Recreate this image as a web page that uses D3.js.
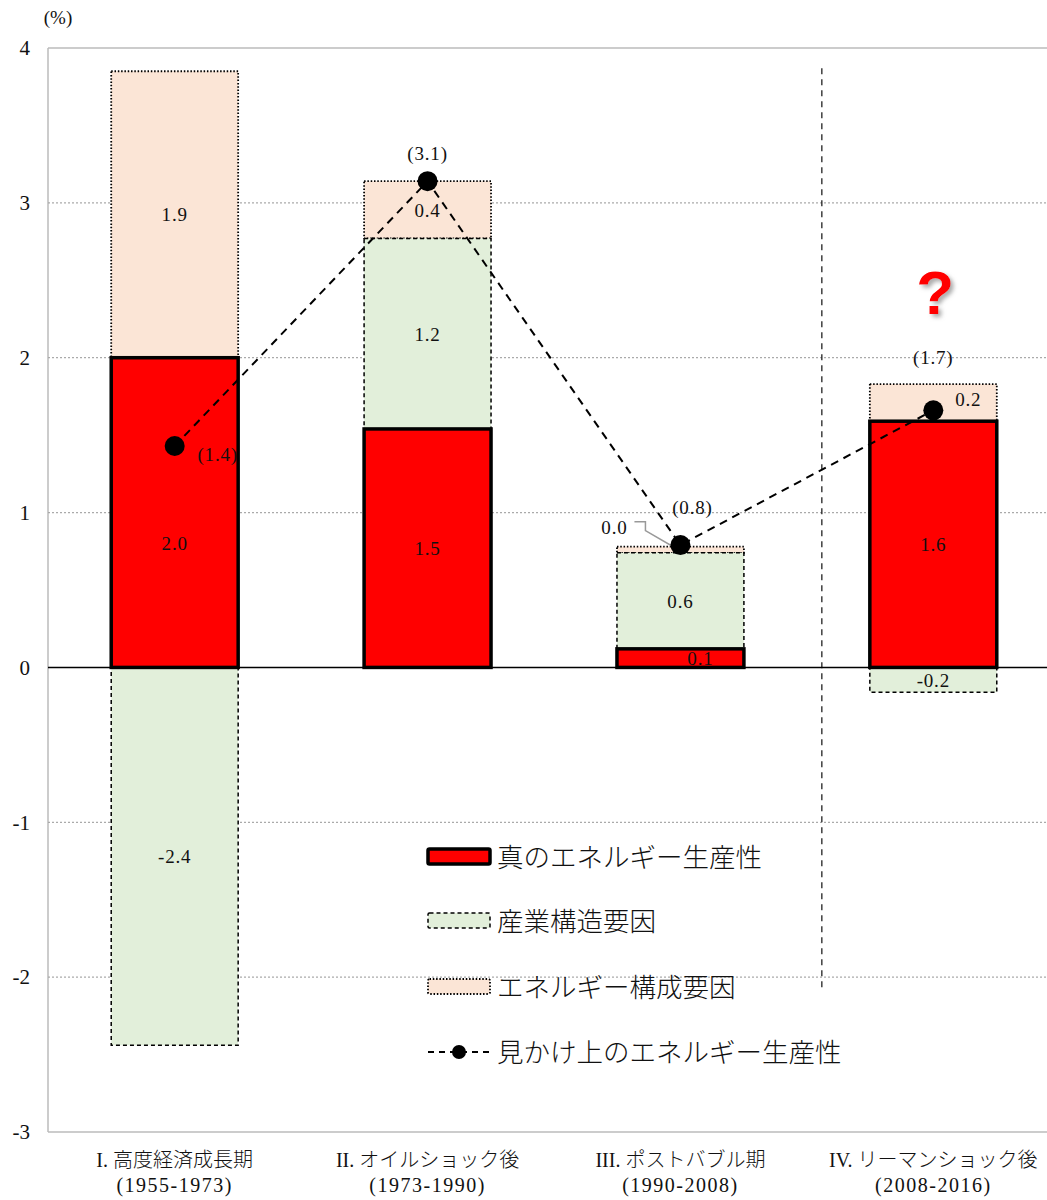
<!DOCTYPE html>
<html>
<head>
<meta charset="utf-8">
<script src="https://cdn.jsdelivr.net/npm/d3@7"></script>
<style>
  html, body { margin: 0; padding: 0; background: #fff; }
  svg text { fill: #111; }
</style>
</head>
<body>
<svg id="chart" width="1047" height="1200"></svg>
<script>
// Energy productivity growth decomposition by period (%)
const periods = ["I. 高度経済成長期", "II. オイルショック後", "III. ポストバブル期", "IV. リーマンショック後"];
const periodYears = ["(1955-1973)", "(1973-1990)", "(1990-2008)", "(2008-2016)"];
const trueProductivity = [2.0, 1.54, 0.12, 1.59];
const industryStructure = [-2.44, 1.23, 0.62, -0.16];
const energyMix = [1.85, 0.37, 0.04, 0.24];
const apparentProductivity = [1.43, 3.14, 0.79, 1.66];
const yTicks = [-3, -2, -1, 0, 1, 2, 3, 4];
const seriesNames = ["真のエネルギー生産性", "産業構造要因", "エネルギー構成要因", "見かけ上のエネルギー生産性"];

const SERIF = "'Liberation Serif', 'Noto Sans CJK JP', serif";
const JP = "'Noto Sans CJK JP', 'Liberation Serif', sans-serif";

const svg = d3.select("#chart");
const plot = { left: 48, right: 1060, top: 48, bottom: 1132 };

const x = d3.scaleBand().domain(periods).range([plot.left, plot.right])
  .paddingInner(0.498).paddingOuter(0.25);
const y = d3.scaleLinear().domain([-3, 4]).range([plot.bottom, plot.top]);
const locale = d3.formatLocale({ decimal: ".", thousands: ",", grouping: [3], currency: ["", ""], minus: "-" });
const fmt = locale.format(".1f");
const fmtInt = locale.format("d");

// shadow for the question mark
const defs = svg.append("defs");
const f = defs.append("filter").attr("id", "qshadow").attr("x", "-50%").attr("y", "-50%").attr("width", "200%").attr("height", "200%");
f.append("feDropShadow").attr("dx", 3).attr("dy", 3).attr("stdDeviation", 2).attr("flood-color", "#888").attr("flood-opacity", 0.7);

// plot frame
svg.append("line").attr("x1", plot.left).attr("x2", plot.right).attr("y1", y(4)).attr("y2", y(4))
  .attr("stroke", "#bbb").attr("stroke-width", 1.5);
svg.append("line").attr("x1", plot.left).attr("x2", plot.right).attr("y1", y(-3)).attr("y2", y(-3))
  .attr("stroke", "#bbb").attr("stroke-width", 1.5);
svg.append("line").attr("x1", plot.left).attr("x2", plot.left).attr("y1", y(4)).attr("y2", y(-3))
  .attr("stroke", "#bbb").attr("stroke-width", 1.5);

// dotted gridlines
svg.append("g").selectAll("line").data(yTicks.filter(t => t > -3 && t < 4 && t !== 0)).join("line")
  .attr("x1", plot.left).attr("x2", plot.right)
  .attr("y1", d => y(d)).attr("y2", d => y(d))
  .attr("stroke", "#aaa").attr("stroke-width", 1.2).attr("stroke-dasharray", "2,2");

// y axis labels
const yAxis = d3.axisLeft(y).tickValues(yTicks).tickSize(0).tickPadding(18).tickFormat(fmtInt);
const yg = svg.append("g").attr("transform", `translate(${plot.left},0)`).call(yAxis);
yg.select(".domain").remove();
yg.selectAll("text").attr("font-size", 21).style("font-family", SERIF).attr("fill", "#111");
svg.append("text").attr("x", 58).attr("y", 24).attr("text-anchor", "middle").attr("font-size", 19)
  .style("font-family", SERIF).text("(%)");

// vertical separator before the last period
const sepX = x(periods[3]) - 48;
svg.append("line").attr("x1", sepX).attr("x2", sepX).attr("y1", y(3.87)).attr("y2", y(-2.07))
  .attr("stroke", "#222").attr("stroke-width", 1.3).attr("stroke-dasharray", "6,5");

// build stacked segments
const segs = [];
periods.forEach((p, i) => {
  let pos = 0, neg = 0;
  [["true", trueProductivity[i]], ["ind", industryStructure[i]], ["mix", energyMix[i]]].forEach(([k, v]) => {
    let y0, y1;
    if (v >= 0) { y0 = pos; y1 = pos + v; pos = y1; } else { y0 = neg + v; y1 = neg; neg = y0; }
    segs.push({ p, k, v, y0, y1 });
  });
});

const style = {
  true: { fill: "#ff0000", stroke: "#000", width: 3.5, dash: null },
  ind: { fill: "#e2efda", stroke: "#000", width: 1.5, dash: "4,3" },
  mix: { fill: "#fbe5d6", stroke: "#000", width: 1.8, dash: "1.5,1.8" }
};

const order = { mix: 0, ind: 1, true: 2 };
svg.append("g").selectAll("rect").data(segs.slice().sort((a, b) => order[a.k] - order[b.k])).join("rect")
  .attr("x", d => x(d.p)).attr("width", x.bandwidth())
  .attr("y", d => y(d.y1)).attr("height", d => y(d.y0) - y(d.y1))
  .attr("fill", d => style[d.k].fill).attr("stroke", d => style[d.k].stroke)
  .attr("stroke-width", d => style[d.k].width)
  .attr("stroke-dasharray", d => style[d.k].dash);

// zero line
svg.append("line").attr("x1", plot.left).attr("x2", plot.right).attr("y1", y(0)).attr("y2", y(0))
  .attr("stroke", "#000").attr("stroke-width", 1.5);

// segment value labels
const cx = p => x(p) + x.bandwidth() / 2;
const valueText = (sel) => sel.attr("text-anchor", "middle").attr("font-size", 19)
  .style("font-family", SERIF).style("letter-spacing", "0.8px");
const labelOffset = {
  "I. 高度経済成長期|true": [0, 30],
  "III. ポストバブル期|true": [20, 0],
  "IV. リーマンショック後|mix": [35, -4]
};
segs.forEach(d => {
  const key = d.p + "|" + d.k;
  if (d.p === periods[2] && d.k === "mix") return;
  const off = labelOffset[key] || [0, 0];
  svg.append("text").attr("x", cx(d.p) + off[0]).attr("y", y((d.y0 + d.y1) / 2) + off[1] + 7)
    .call(valueText).text(fmt(d.v));
});
// thin energy-mix slice in period III labelled with a leader
{
  const d = segs.find(s => s.p === periods[2] && s.k === "mix");
  const tx = cx(d.p) - 66, ty = y(d.y1) - 13;
  svg.append("path")
    .attr("d", `M${tx + 20},${ty - 12} H${tx + 31} V${ty - 3} L${cx(d.p) - 2},${y((d.y0 + d.y1) / 2)}`)
    .attr("fill", "none").attr("stroke", "#999").attr("stroke-width", 1.5);
  svg.append("text").attr("x", tx).attr("y", ty).call(valueText).text(fmt(d.v));
}

// apparent productivity line + points
const pts = periods.map((p, i) => ({ p, v: apparentProductivity[i] }));
svg.append("path").datum(pts)
  .attr("d", d3.line().x(d => cx(d.p)).y(d => y(d.v)))
  .attr("fill", "none").attr("stroke", "#000").attr("stroke-width", 2).attr("stroke-dasharray", "8,6");
svg.append("g").selectAll("circle").data(pts).join("circle")
  .attr("cx", d => cx(d.p)).attr("cy", d => y(d.v)).attr("r", 10).attr("fill", "#000");

const ptOffset = [[43, 8], [0, -28], [12, -38], [0, -53]];
pts.forEach((d, i) => {
  svg.append("text").attr("x", cx(d.p) + ptOffset[i][0]).attr("y", y(d.v) + ptOffset[i][1] + 7)
    .call(valueText).text(`(${fmt(d.v)})`);
});

// question mark over the last period
svg.append("text").attr("x", cx(periods[3]) + 2).attr("y", 314).attr("text-anchor", "middle")
  .style("font-family", "'Liberation Sans', Arial, sans-serif").style("font-weight", "bold")
  .attr("font-size", 62).style("fill", "#ff0000")
  .attr("filter", "url(#qshadow)").text("?");

// category labels
periods.forEach((p, i) => {
  const parts = p.split(" ");
  const t = svg.append("text").attr("x", cx(p)).attr("y", 1167).attr("text-anchor", "middle").attr("font-size", 20);
  t.append("tspan").style("font-family", SERIF).text(parts[0] + " ");
  t.append("tspan").style("font-family", JP).style("font-weight", 300).text(parts[1]);
  svg.append("text").attr("x", cx(p)).attr("y", 1192).attr("text-anchor", "middle")
    .attr("font-size", 20).style("font-family", SERIF).style("letter-spacing", "1.5px").text(periodYears[i]);
});

// legend
const lg = svg.append("g").attr("transform", "translate(428,0)");
const rows = [857, 921, 987, 1052];
["true", "ind", "mix"].forEach((k, i) => {
  const s = style[k];
  lg.append("rect").attr("x", 0).attr("y", rows[i] - 8).attr("width", 62).attr("height", 15)
    .attr("rx", 1.5)
    .attr("fill", s.fill).attr("stroke", s.stroke).attr("stroke-width", s.width).attr("stroke-dasharray", s.dash);
});
lg.append("line").attr("x1", 0).attr("x2", 62).attr("y1", rows[3]).attr("y2", rows[3])
  .attr("stroke", "#000").attr("stroke-width", 2).attr("stroke-dasharray", "6,5");
lg.append("circle").attr("cx", 31).attr("cy", rows[3]).attr("r", 7).attr("fill", "#000");
seriesNames.forEach((n, i) => {
  lg.append("text").attr("x", 69).attr("y", rows[i] + 10).attr("font-size", 26.5)
    .style("font-family", JP).style("font-weight", 300).text(n);
});
</script>
</body>
</html>
